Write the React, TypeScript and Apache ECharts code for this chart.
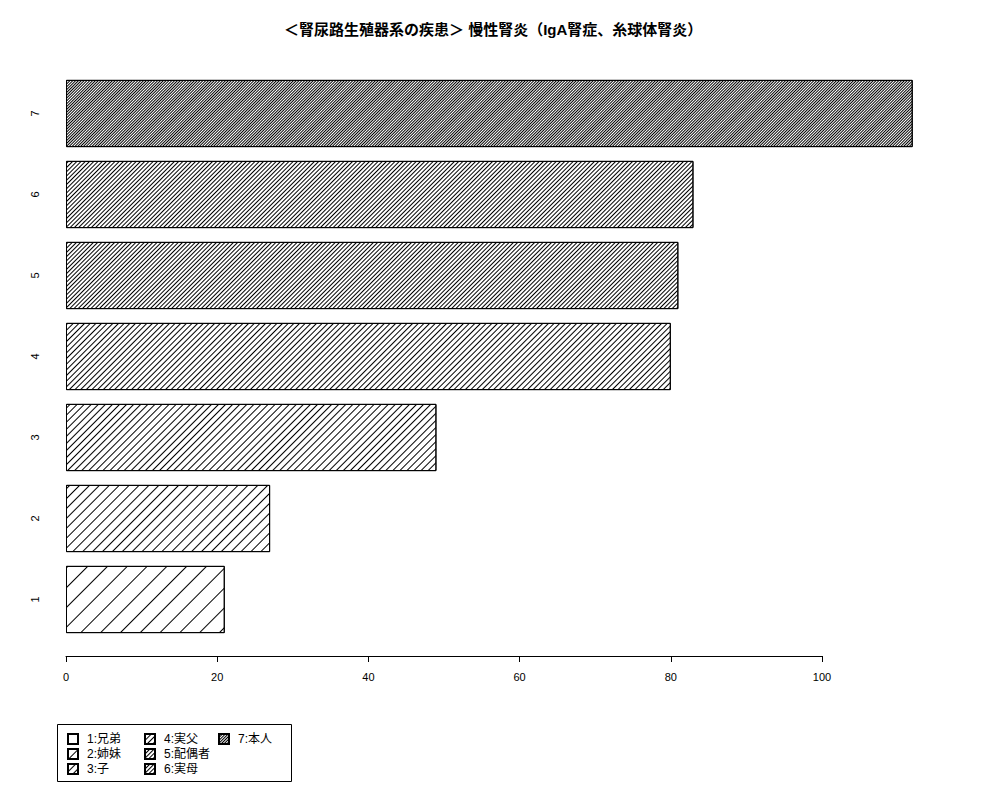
import { useEffect, useRef } from 'react'
import * as echarts from 'echarts'

const categories = ['1', '2', '3', '4', '5', '6', '7']
const values = [21, 27, 49, 80, 81, 83, 112]
const legendNames = ['1:兄弟', '2:姉妹', '3:子', '4:実父', '5:配偶者', '6:実母', '7:本人']
const xTicks = [0, 20, 40, 60, 80, 100]
// hatch line / gap per bar (denser for higher index)
const hatch = [[1, 13], [1, 6], [1, 4], [1, 3], [1, 2], [1, 2], [1, 1]]

const FONT = '"Liberation Sans", "Noto Sans CJK JP", sans-serif'

const App: React.FC = () => {
  const chartRef = useRef<HTMLDivElement>(null)

  useEffect(() => {
    if (!chartRef.current) return
    const chart = echarts.init(chartRef.current, undefined, { renderer: 'svg' })

    const series = values.map((v, i) => ({
      name: legendNames[i],
      type: 'bar',
      stack: 'all',
      xAxisIndex: 0,
      yAxisIndex: 0,
      barCategoryGap: '17%',
      data: categories.map((_, j) => (j === i ? v : '-')),
      itemStyle: {
        color: '#ffffff',
        borderColor: '#000000',
        borderWidth: 1,
        decal: {
          symbol: 'rect',
          symbolSize: 1,
          color: '#000000',
          dashArrayX: [1, 0],
          dashArrayY: hatch[i],
          rotation: -Math.PI / 4
        }
      }
    }))

    const legendBase = {
      orient: 'vertical',
      top: 733,
      padding: 0,
      itemWidth: 10,
      itemHeight: 10,
      itemGap: 3,
      icon: 'rect',
      selectedMode: false,
      textStyle: { color: '#000', fontSize: 12, fontFamily: FONT, padding: [0, 0, 0, 4] }
    }

    chart.setOption({
      animation: false,
      backgroundColor: '#ffffff',
      textStyle: { fontFamily: FONT },
      title: {
        text: '＜腎尿路生殖器系の疾患＞ 慢性腎炎（IgA腎症、糸球体腎炎）',
        left: 279,
        top: 17,
        textStyle: { fontSize: 15, fontWeight: 'bold', color: '#000', fontFamily: FONT }
      },
      legend: [
        { ...legendBase, left: 67, data: legendNames.slice(0, 3) },
        { ...legendBase, left: 144, data: legendNames.slice(3, 6) },
        { ...legendBase, left: 218, data: legendNames.slice(6) }
      ],
      grid: [
        { left: 66, top: 73, width: 112 * 7.56, height: 567 },
        { left: 66, top: 655, width: 756, height: 1 }
      ],
      xAxis: [
        { type: 'value', gridIndex: 0, min: 0, max: 112, show: false },
        {
          type: 'value',
          gridIndex: 1,
          min: xTicks[0],
          max: xTicks[xTicks.length - 1],
          interval: 20,
          position: 'bottom',
          axisLine: { show: true, lineStyle: { color: '#000', width: 1 } },
          axisTick: { show: true, length: 6, lineStyle: { color: '#000' } },
          axisLabel: { color: '#000', fontSize: 11, margin: 15, fontFamily: FONT },
          splitLine: { show: false }
        }
      ],
      yAxis: [
        {
          type: 'category',
          gridIndex: 0,
          data: categories,
          axisLine: { show: false },
          axisTick: { show: false },
          axisLabel: { rotate: 90, color: '#000', fontSize: 11, margin: 26, fontFamily: FONT }
        },
        { type: 'value', gridIndex: 1, show: false }
      ],
      graphic: [
        {
          type: 'rect',
          shape: { x: 57.5, y: 724.5, width: 234, height: 57 },
          style: { fill: 'none', stroke: '#000', lineWidth: 1 },
          silent: true
        }
      ],
      series
    })

    return () => {
      chart.dispose()
    }
  }, [])

  return (
    <div
      ref={chartRef}
      style={{ position: 'absolute', left: 0, top: 0, width: '1000px', height: '800px' }}
    />
  )
}

export default App
